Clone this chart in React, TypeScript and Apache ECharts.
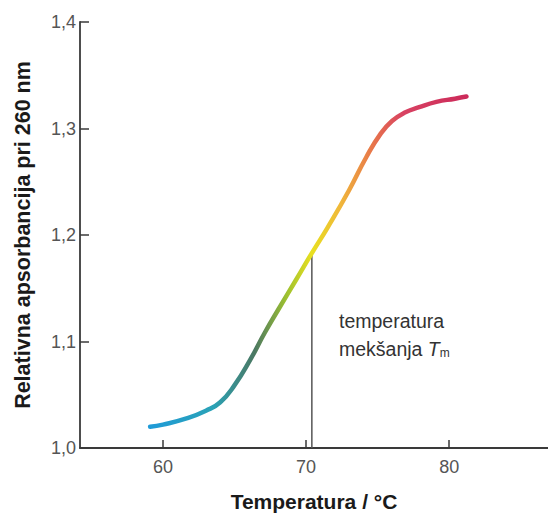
import React, { useEffect, useRef } from "react";
import * as echarts from "echarts";

const temperatures = [59.1, 60, 61.7, 63.0, 64.0, 65.0, 66.1, 67.1, 68.1, 69.3, 70.4, 71.5, 73.0, 74.2, 75.2, 76.0, 76.9, 77.9, 79.1, 80.4, 81.2];
const absorbance = [1.020, 1.022, 1.028, 1.035, 1.043, 1.059, 1.083, 1.108, 1.131, 1.158, 1.183, 1.207, 1.242, 1.273, 1.295, 1.307, 1.315, 1.320, 1.325, 1.328, 1.330];
const xTickValues = [60, 70, 80];
const meltingTemp = 70.4;
const meltingAbs = 1.182;
const annotationLine1 = "temperatura";
const annotationLine2 = "mekšanja ";
const xName = "Temperatura / °C";
const yName = "Relativna apsorbancija pri 260 nm";

export default function App() {
  const ref = useRef<HTMLDivElement>(null);
  useEffect(() => {
    if (!ref.current) return;
    const chart = echarts.init(ref.current, null, { renderer: "svg" });
    const axisColor = "#3a3a3a";
    const labelColor = "#555";
    const font = "Liberation Sans, Arial, Helvetica, sans-serif";
    chart.setOption({
      animation: false,
      backgroundColor: "#fff",
      grid: { left: 80, right: 0, top: 22, bottom: 68, containLabel: false },
      xAxis: {
        type: "value",
        min: 54.2,
        max: 86.9,
        name: xName,
        nameLocation: "middle",
        nameGap: 43,
        nameTextStyle: { fontFamily: font, fontSize: 21, fontWeight: "bold", color: "#1a1a1a" },
        axisLine: { show: true, lineStyle: { color: axisColor, width: 1.8 } },
        axisTick: { show: true, inside: true, length: 8, customValues: xTickValues, lineStyle: { color: axisColor, width: 1.5 } },
        axisLabel: { customValues: xTickValues, margin: 10, fontFamily: font, fontSize: 18, color: labelColor },
        splitLine: { show: false },
      },
      yAxis: {
        type: "value",
        min: 1.0,
        max: 1.4,
        interval: 0.1,
        name: yName,
        nameLocation: "middle",
        nameGap: 46,
        nameRotate: 90,
        nameTextStyle: { fontFamily: font, fontSize: 21.5, fontWeight: "bold", color: "#1a1a1a" },
        axisLine: { show: true, lineStyle: { color: axisColor, width: 1.8 } },
        axisTick: { show: true, inside: true, length: 9, lineStyle: { color: axisColor, width: 1.5 } },
        axisLabel: {
          margin: 4,
          fontFamily: font,
          fontSize: 18,
          color: labelColor,
          formatter: (v: number) => v.toFixed(1).replace(".", ","),
        },
        splitLine: { show: false },
      },
      series: [
        {
          type: "line",
          data: temperatures.map((t, i) => [t, absorbance[i]]),
          smooth: 0.5,
          showSymbol: false,
          symbol: "none",
          z: 3,
          lineStyle: {
            width: 4.5,
            cap: "round",
            color: new echarts.graphic.LinearGradient(0, 0, 1, 0, [
              { offset: 0, color: "#1f9bd8" },
              { offset: 0.2, color: "#2aa2b6" },
              { offset: 0.33, color: "#4b7862" },
              { offset: 0.43, color: "#9cc030" },
              { offset: 0.51, color: "#e8e020" },
              { offset: 0.6, color: "#f0b83a" },
              { offset: 0.7, color: "#e8784a" },
              { offset: 0.8, color: "#d84262" },
              { offset: 1, color: "#cc2a5a" },
            ]),
          },
        },
        {
          type: "line",
          data: [
            [meltingTemp, 1.0],
            [meltingTemp, meltingAbs],
          ],
          showSymbol: false,
          symbol: "none",
          z: 2,
          lineStyle: { width: 1.5, color: "#555" },
        },
      ],
      graphic: [
        {
          type: "text",
          left: 339,
          top: 311,
          style: {
            text: annotationLine1,
            fontFamily: font,
            fontSize: 19.5,
            fill: "#333",
          },
        },
        {
          type: "text",
          left: 339,
          top: 339,
          style: {
            text: annotationLine2 + "{it|T}{sub|m}",
            fontFamily: font,
            fontSize: 19.5,
            fill: "#333",
            rich: {
              it: { fontFamily: font, fontSize: 19.5, fontStyle: "italic", fill: "#333", color: "#333" },
              sub: { fontFamily: font, fontSize: 12, fill: "#333", color: "#333", padding: [8, 0, 0, 0] },
            },
          },
        },
      ],
    });
    return () => chart.dispose();
  }, []);
  return <div ref={ref} style={{ position: "fixed", left: 0, top: 0, width: 548, height: 517 }} />;
}
